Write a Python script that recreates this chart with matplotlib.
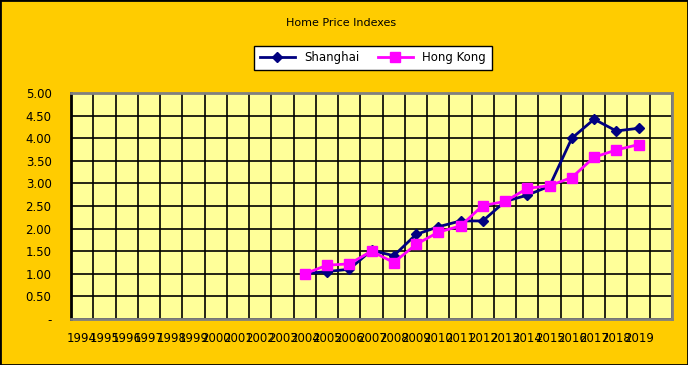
import matplotlib
matplotlib.use("Agg")
import matplotlib.pyplot as plt
from matplotlib.patches import Rectangle
from matplotlib.ticker import FixedLocator, NullLocator

# category labels (last slot of the sheet is empty)
year_labels = ["1994", "1995", "1996", "1997", "1998", "1999", "2000", "2001",
               "2002", "2003", "2004", "2005", "2006", "2007", "2008", "2009",
               "2010", "2011", "2012", "2013", "2014", "2015", "2016", "2017",
               "2018", "2019", ""]
data_years = ["2004", "2005", "2006", "2007", "2008", "2009", "2010", "2011",
              "2012", "2013", "2014", "2015", "2016", "2017", "2018", "2019"]
shanghai = [1.00, 1.05, 1.10, 1.52, 1.40, 1.87, 2.04, 2.17,
            2.17, 2.60, 2.74, 2.94, 4.00, 4.42, 4.16, 4.22]
hong_kong = [1.00, 1.19, 1.22, 1.50, 1.25, 1.65, 1.92, 2.06,
             2.51, 2.60, 2.89, 2.95, 3.13, 3.58, 3.74, 3.86]
y_ticks = [0, 0.5, 1.0, 1.5, 2.0, 2.5, 3.0, 3.5, 4.0, 4.5, 5.0]
y_labels = ["-", "0.50", "1.00", "1.50", "2.00", "2.50", "3.00", "3.50", "4.00", "4.50", "5.00"]

W, H = 688, 365
fig = plt.figure(figsize=(W / 100, H / 100), dpi=100, facecolor="#FFCC00")
ax = fig.add_axes([71 / W, 1 - 319 / H, (672 - 71) / W, (319 - 93) / H])
ax.set_facecolor("#FFFF99")

xpos = [year_labels.index(y) for y in data_years]
ax.plot(xpos, shanghai, color="#000080", lw=2, marker="D", ms=5,
        label="Shanghai", zorder=3)
ax.plot(xpos, hong_kong, color="#FF00FF", lw=2, marker="s", ms=7,
        label="Hong Kong", zorder=4)

n = len(year_labels)
ax.set_xlim(-0.5, n - 0.5)
ax.set_ylim(0, 5)
ax.set_xticks(range(n))
ax.set_xticklabels(year_labels)
ax.xaxis.set_minor_locator(FixedLocator([i - 0.5 for i in range(n + 1)]))
ax.set_yticks(y_ticks)
ax.set_yticklabels(y_labels)
ax.yaxis.set_minor_locator(NullLocator())

ax.grid(which="minor", axis="x", color="black", lw=1.2)
ax.grid(which="major", axis="y", color="black", lw=1.2)
ax.grid(which="major", axis="x", visible=False)
ax.set_axisbelow(True)

ax.tick_params(axis="both", which="both", length=0, labelsize=8.5)
ax.tick_params(axis="y", pad=14)
ax.tick_params(axis="x", pad=9)

for side in ["top", "right", "bottom"]:
    ax.spines[side].set_color("#808080")
    ax.spines[side].set_linewidth(2)
ax.spines["left"].set_color("black")
ax.spines["left"].set_linewidth(2)

fig.text(341 / W, 1 - 23 / H, "Home Price Indexes", ha="center", va="center",
         fontsize=8)

leg = fig.legend(loc="center", bbox_to_anchor=(373 / W, 1 - 58 / H), ncol=2,
                 fontsize=8.5, frameon=True, fancybox=False, edgecolor="black",
                 facecolor="white", framealpha=1, handlelength=3,
                 columnspacing=1.5, borderpad=0.45)
leg.get_frame().set_linewidth(1)

fig.patches.append(Rectangle((0, 0), 1, 1, transform=fig.transFigure,
                             fill=False, edgecolor="black", lw=2))

fig.savefig("out.png", dpi=100, facecolor=fig.get_facecolor())
